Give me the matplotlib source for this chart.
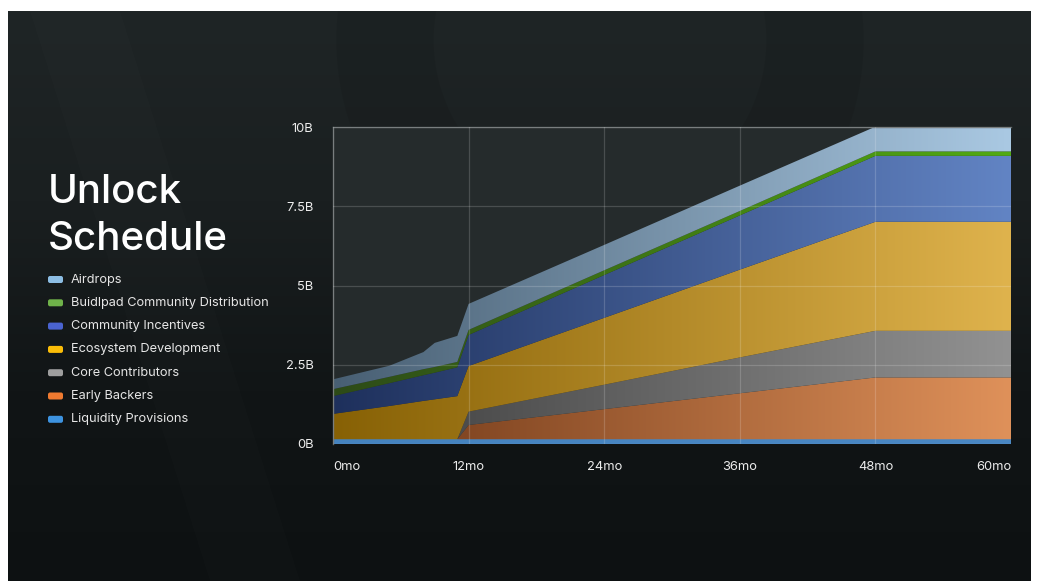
import numpy as np
import matplotlib.pyplot as plt
from matplotlib.colors import LinearSegmentedColormap
from matplotlib.patches import FancyBboxPatch, PathPatch, Circle, Polygon

plt.rcParams['font.family'] = ['Inter', 'DejaVu Sans']

# months where the stack changes slope
months = [0, 5, 8, 9, 11, 12, 24, 36, 48, 60]

# token amounts per category, in billions (stack order bottom -> top)
liquidity = [0.15, 0.15, 0.15, 0.15, 0.15, 0.15, 0.15, 0.15, 0.15, 0.15]
early_backers = [0, 0, 0, 0, 0, 0.45, 0.95, 1.45, 1.95, 1.95]
core_contributors = [0, 0, 0, 0, 0, 0.42, 0.77, 1.13, 1.47, 1.47]
ecosystem = [0.80, 1.05, 1.21, 1.26, 1.36, 1.44, 2.11, 2.77, 3.44, 3.44]
community_incentives = [0.56, 0.72, 0.81, 0.84, 0.91, 0.98, 1.35, 1.71, 2.08, 2.08]
buidlpad = [0.22, 0.20, 0.19, 0.18, 0.17, 0.16, 0.15, 0.14, 0.14, 0.14]
airdrops = [0.31, 0.35, 0.54, 0.76, 0.82, 0.82, 0.80, 0.80, 0.78, 0.78]

names = ["Liquidity Provisions", "Early Backers", "Core Contributors",
         "Ecosystem Development", "Community Incentives",
         "Buidlpad Community Distribution", "Airdrops"]
values = [liquidity, early_backers, core_contributors, ecosystem,
          community_incentives, buidlpad, airdrops]
# fill colours: dark on the left, bright on the right
fill_left = ["#4583bf", "#6e3616", "#3c3c3c", "#876105", "#1e305c", "#2d4a18", "#485f73"]
fill_right = ["#4a88c4", "#df915a", "#929292", "#dfb34d", "#6284c4", "#52ab12", "#aac9e3"]
legend_colors = ["#3d93e0", "#ef7a30", "#9e9e9e", "#fbbd08", "#4a63d0", "#6fb24a", "#8cbde3"]

y_ticks = [0, 2.5, 5, 7.5, 10]
y_labels = ["0B", "2.5B", "5B", "7.5B", "10B"]
x_ticks = [0, 12, 24, 36, 48, 60]
x_labels = ["0mo", "12mo", "24mo", "36mo", "48mo", "60mo"]

W, H = 1039, 581
fig = plt.figure(figsize=(W / 100, H / 100), dpi=100, facecolor="white")

# background panel
bg = fig.add_axes([0, 0, 1, 1])
bg.set_xlim(0, W)
bg.set_ylim(H, 0)
bg.axis("off")
grad = np.linspace(0, 1, 256).reshape(-1, 1)
bg_cmap = LinearSegmentedColormap.from_list("bg", ["#1f2526", "#1a1f20", "#111516", "#0d1112"])
bg.imshow(grad, extent=(8, 1031, 581, 11), cmap=bg_cmap, aspect="auto", zorder=0)
# faint decorative shapes
ring = Circle((600, 40), 215, fill=False, lw=70, ec="#000000", alpha=0.07, zorder=1)
bg.add_patch(ring)
band = Polygon([(30, 11), (120, 11), (300, 581), (210, 581)], closed=True,
               fc="#ffffff", alpha=0.012, ec="none", zorder=1)
bg.add_patch(band)
bg.add_patch(Polygon([(0, 0), (1039, 0), (1039, 11), (0, 11)], fc="white", ec="none", zorder=2))

# title
bg.text(48, 203, "Unlock", fontsize=29, color="white", va="baseline", weight="medium")
bg.text(48, 250, "Schedule", fontsize=29, color="white", va="baseline", weight="medium")

# legend
legend_order = list(range(len(names)))[::-1]
for row, i in enumerate(legend_order):
    y = 279.5 + 23.3 * row
    bg.add_patch(FancyBboxPatch((48, y - 3.5), 15, 7, boxstyle="round,pad=0,rounding_size=2",
                                fc=legend_colors[i], ec="none", zorder=3))
    bg.text(71, y, names[i], fontsize=9.2, color="#e6e6e6", va="center", zorder=3)

# chart
ax = fig.add_axes([333 / W, 1 - 444 / H, (1011 - 333) / W, (444 - 127) / H])
ax.set_facecolor("#252b2c")

stack = np.cumsum(np.array(values, dtype=float), axis=0)
hgrad = np.linspace(0, 1, 256).reshape(1, -1)
for i in range(len(values)):
    lower = stack[i - 1] if i > 0 else np.zeros(len(months))
    poly = ax.fill_between(months, lower, stack[i], color="none", lw=0)
    clip = PathPatch(poly.get_paths()[0], transform=ax.transData, fc="none", ec="none")
    ax.add_patch(clip)
    cmap = LinearSegmentedColormap.from_list(names[i], [fill_left[i], fill_right[i]])
    im = ax.imshow(hgrad, extent=(0, 60, 0, 10), cmap=cmap, aspect="auto", zorder=2)
    im.set_clip_path(clip)

ax.set_xlim(0, 60)
ax.set_ylim(0, 10)
ax.set_aspect("auto")
ax.set_xticks(x_ticks)
ax.set_xticklabels(x_labels)
ax.set_yticks(y_ticks)
ax.set_yticklabels(y_labels)
ax.tick_params(length=0, colors="#ececec", labelsize=9.3)
ax.tick_params(axis="y", pad=14)
ax.tick_params(axis="x", pad=12)
xl = ax.get_xticklabels()
xl[0].set_ha("left")
xl[-1].set_ha("right")

ax.set_axisbelow(False)
ax.grid(True, color="white", alpha=0.17, lw=0.9, zorder=5)
for side in ["right", "bottom"]:
    ax.spines[side].set_visible(False)
for side in ["top", "left"]:
    ax.spines[side].set_color("#5f6566")
    ax.spines[side].set_linewidth(1.0)

fig.savefig("out.png", dpi=100, facecolor="white")
